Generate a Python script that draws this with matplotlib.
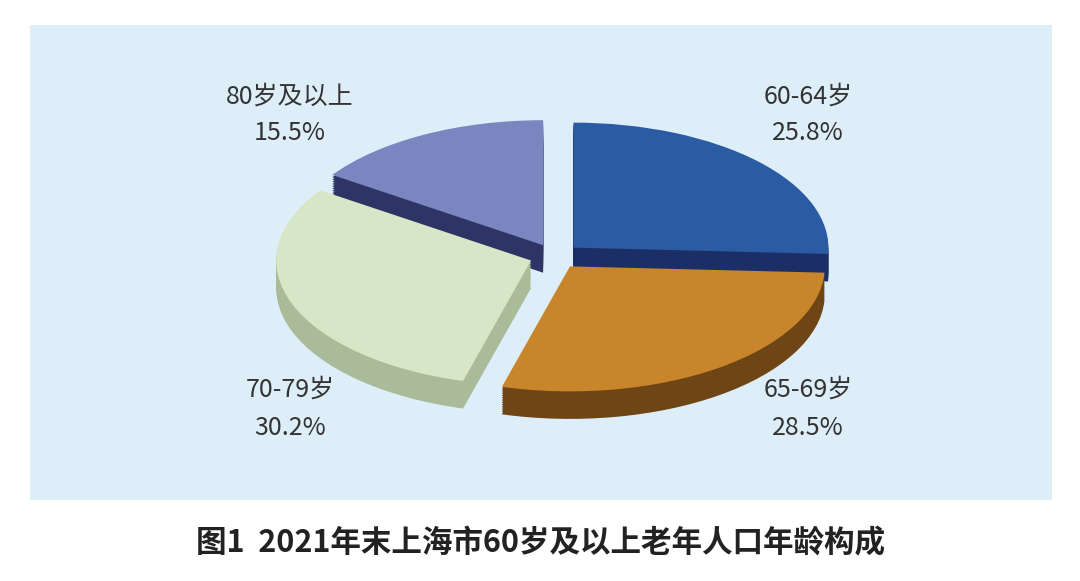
import matplotlib
matplotlib.use("Agg")
import matplotlib.pyplot as plt
import numpy as np

plt.rcParams['font.family'] = ['Noto Sans CJK SC', 'DejaVu Sans']

categories = ['60-64岁', '65-69岁', '70-79岁', '80岁及以上']
values = [25.8, 28.5, 30.2, 15.5]
top_colors = ['#2b5ba3', '#c9852b', '#d6e6c6', '#7a86bf']
side_colors = ['#1b2f66', '#6e4515', '#a9bb98', '#2e3566']
title = '图1  2021年末上海市60岁及以上老年人口年龄构成'

fig = plt.figure(figsize=(10.8, 5.81), dpi=100)
fig.patch.set_facecolor('white')
panel = fig.add_axes([30/1080, 81/581, 1022/1080, 475/581])
panel.set_facecolor('#ddeef9')
panel.set_xticks([]); panel.set_yticks([])
for s in panel.spines.values():
    s.set_visible(False)

ax = fig.add_axes([30/1080, 81/581, 1022/1080, 475/581])
ax.set_axis_off()
explode = [0.1, 0.1, 0.1, 0.1]
depth = 0.22
n = 12
for i in range(n, 0, -1):
    ax.pie(values, colors=side_colors, startangle=90, counterclock=False,
           explode=explode, center=(0, -depth * i / n), radius=1.0,
           wedgeprops=dict(linewidth=0))
ax.pie(values, colors=top_colors, startangle=90, counterclock=False,
       explode=explode, center=(0, 0), radius=1.0,
       wedgeprops=dict(linewidth=0))
ax.set_aspect('auto')
ax.set_xlim(-2.06, 1.95)
ax.set_ylim(-1.95, 1.85)

lab = dict(fontsize=18, color='#333333', ha='center', va='center')
fig.text(808/1080, 1-97/581, '60-64岁', **lab)
fig.text(808/1080, 1-133/581, '25.8%', **lab)
fig.text(808/1080, 1-390/581, '65-69岁', **lab)
fig.text(808/1080, 1-428/581, '28.5%', **lab)
fig.text(290/1080, 1-390/581, '70-79岁', **lab)
fig.text(290/1080, 1-428/581, '30.2%', **lab)
fig.text(290/1080, 1-97/581, '80岁及以上', **lab)
fig.text(290/1080, 1-133/581, '15.5%', **lab)

fig.text(540/1080, 1-543/581, title, fontsize=22, fontweight='bold',
         ha='center', va='center', color='#222222')
fig.savefig('out.png', dpi=100)
